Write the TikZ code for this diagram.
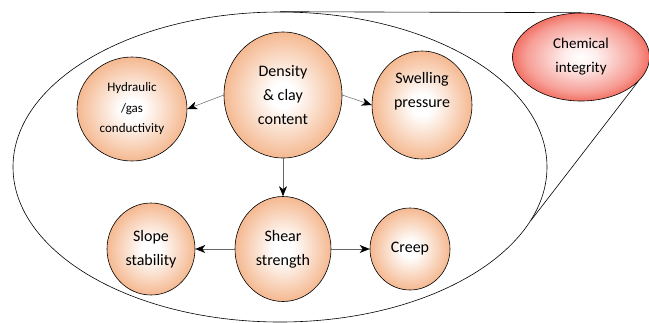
\documentclass[tikz,border=0pt]{standalone}
\usepackage{fontspec}
\setmainfont{Carlito}
\usetikzlibrary{positioning,shapes.geometric,arrows.meta}

\definecolor{peach}{RGB}{243,174,128}
\definecolor{chemred}{RGB}{236,40,22}

% soft balls, white in the middle
\pgfdeclareradialshading{peachball}{\pgfpoint{0bp}{0bp}}{color(0bp)=(white); color(5bp)=(white); color(28bp)=(peach); color(50bp)=(peach)}
\pgfdeclareradialshading{redball}{\pgfpoint{0bp}{0bp}}{color(0bp)=(white); color(6bp)=(white!92!chemred); color(20bp)=(chemred!45!white); color(33bp)=(chemred); color(50bp)=(chemred)}

\begin{document}
\begin{tikzpicture}[x=1pt, y=-1pt,
    prop/.style={ellipse, draw, line width=0.6pt, shading=peachball, align=center, inner sep=0pt},
    bigfont/.style={font=\fontsize{16}{24}\selectfont},
    smallfont/.style={font=\fontsize{13}{20.5}\selectfont},
    link/.style={-{Stealth[length=10pt, width=8pt, inset=3pt, black]}, draw=black!60, line width=0.5pt}]

\useasboundingbox (0,0) rectangle (649,322);
\clip (0,0) rectangle (649,322);

% Outer boundary and callout
\node[ellipse, draw, line width=0.6pt, minimum width=534pt, minimum height=310pt] (big) at (280,167) {};
\node[ellipse, draw, line width=0.6pt, shading=redball, minimum width=137pt, minimum height=88pt,
      align=center, font=\fontsize{15}{24}\selectfont] (chem) at (581,57) {Chemical\\integrity};
\draw[line width=0.6pt] (big.north) -- (chem.north);
\draw[line width=0.6pt] (chem.-24) -- (big.-12);

% Properties
\node[prop, bigfont, minimum width=118pt, minimum height=126pt] (dens) at (283,95) {Density\\\& clay\\content};
\node[prop, smallfont, minimum width=110pt, minimum height=104pt] (hyd) at (132,109) {Hydraulic\\/gas\\conductivity};
\node[prop, bigfont, minimum width=100pt, minimum height=108pt, text depth=30pt] (swell) at (422,105) {Swelling\\pressure};
\node[prop, bigfont, minimum width=96pt, minimum height=105pt] (shear) at (283,249) {Shear\\strength};
\node[prop, bigfont, minimum width=88pt, minimum height=92pt] (slope) at (151,249) {Slope\\stability};
\node[prop, bigfont, minimum width=80pt, minimum height=82pt] (creep) at (410,249) {Creep};

% Connections
\draw[link] (dens.west) -- (hyd.east);
\draw[link] (dens.east) -- (swell.west);
\draw[link] (dens.south) -- (shear.north);
\draw[link] (shear.west) -- (slope.east);
\draw[link] (shear.east) -- (creep.west);

\end{tikzpicture}
\end{document}
